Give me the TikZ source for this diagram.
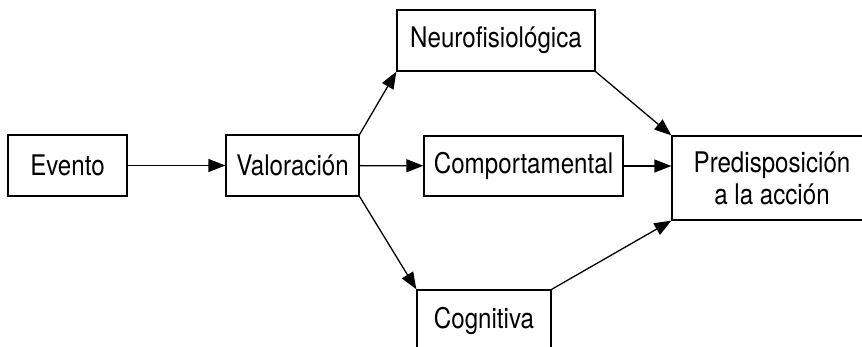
\documentclass[tikz,border=0pt]{standalone}
\usepackage{fontspec}
\setmainfont{TeX Gyre Heros}[FakeStretch=0.85]
\usetikzlibrary{arrows.meta}
\begin{document}
\begin{tikzpicture}[x=0.5pt, y=-0.5pt, line width=0.65pt,
    caja/.style={draw, inner sep=0pt, align=center, font=\fontsize{14.2}{16}\selectfont},
    flecha/.style={-{Triangle[length=8.5pt,width=6.5pt]}}]
  \useasboundingbox (0,0) rectangle (862,347);
  \clip (0,0) rectangle (862,347);
  \node[caja, minimum width=59.5pt, minimum height=30.5pt] (evento) at (67.5,165.5) {Evento};
  \node[caja, minimum width=66.5pt, minimum height=30.5pt] (valoracion) at (292.5,165.5) {Valoración};
  \node[caja, minimum width=99pt, minimum height=30.5pt] (neuro) at (496,40.5) {Neurofisiológica};
  \node[caja, minimum width=99.5pt, minimum height=30pt] (comport) at (523.5,166) {Comportamental};
  \node[caja, minimum width=67pt, minimum height=30.5pt] (cognitiva) at (484,320.5) {Cognitiva};
  \node[caja, minimum width=100pt, minimum height=42pt] (predisp) at (772,178) {Predisposición\\a la acción};
  % conexiones
  \draw[flecha] (evento) -- (valoracion);
  \draw[flecha] (valoracion.north east) -- (neuro.south west);
  \draw[flecha] (valoracion) -- (comport);
  \draw[flecha] (valoracion.south east) -- (cognitiva.north west);
  \draw[flecha] (neuro.south east) -- (predisp.north west);
  \draw[flecha] (comport) -- (comport -| predisp.west);
  \draw[flecha] (cognitiva.north east) -- (predisp.south west);
\end{tikzpicture}
\end{document}
